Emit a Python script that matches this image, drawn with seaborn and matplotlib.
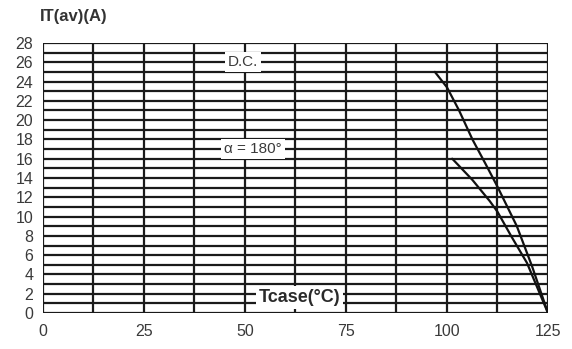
import numpy as np
import pandas as pd
import matplotlib
matplotlib.use("Agg")
import matplotlib.pyplot as plt
import seaborn as sns

# Data
dc_t = [97, 100, 103, 106.3, 109.5, 112.5, 117.3, 121.1, 125]
dc_i = [25, 23.4, 21, 18, 15.5, 13.1, 9.0, 4.8, 0]
a180_t = [101.3, 106.3, 110.6, 112.5, 116.0, 119.8, 125]
a180_i = [16.0, 13.8, 11.6, 10.5, 7.9, 5.2, 0]

x_ticks = [0, 25, 50, 75, 100, 125]
y_ticks = list(range(0, 29, 2))
x_grid = [i * 12.5 for i in range(11)]
y_grid = list(range(0, 29))

df = pd.concat([
    pd.DataFrame({"T": dc_t, "I": dc_i, "curve": "D.C."}),
    pd.DataFrame({"T": a180_t, "I": a180_i, "curve": "a180"}),
])

sns.set_style("white")
plt.rcParams['font.family'] = ['Liberation Sans', 'DejaVu Sans']

fig = plt.figure(figsize=(5.72, 3.49), dpi=100)
ax = fig.add_axes([0.075, 0.103, 0.883, 0.774])

for g in x_grid:
    ax.axvline(g, color="#1a1a1a", lw=1.6, zorder=1)
for g in y_grid:
    ax.axhline(g, color="#1a1a1a", lw=1.6, zorder=1)

sns.lineplot(data=df, x="T", y="I", units="curve", estimator=None,
             color="#111111", lw=1.6, ax=ax, sort=False, zorder=3)

ax.set_xlim(0, 125)
ax.set_ylim(0, 28)
ax.set_xticks(x_ticks)
ax.set_yticks(y_ticks)
ax.tick_params(length=0, labelsize=11.5, colors="#3a3a3a")
ax.tick_params(axis="x", pad=8)
ax.tick_params(axis="y", pad=7)
ax.set_xlabel("")
ax.set_ylabel("")
for s in ax.spines.values():
    s.set_visible(False)

box = dict(facecolor="white", edgecolor="none", pad=2)
ax.text(49.5, 26.0, "D.C.", ha="center", va="center", fontsize=11,
        color="#3a3a3a", bbox=box, zorder=4)
ax.text(52, 17.0, "α = 180°", ha="center", va="center", fontsize=11,
        color="#3a3a3a", bbox=box, zorder=4)
ax.text(63.6, 1.6, "Tcase(°C)", ha="center", va="center", fontsize=13,
        fontweight="bold", color="#2a2a2a", bbox=box, zorder=4)

fig.text(40 / 572, 1 - 16 / 349, "IT(av)(A)", ha="left", va="center",
         fontsize=12, fontweight="bold", color="#333333")

fig.savefig("out.png", dpi=100, facecolor="white")
